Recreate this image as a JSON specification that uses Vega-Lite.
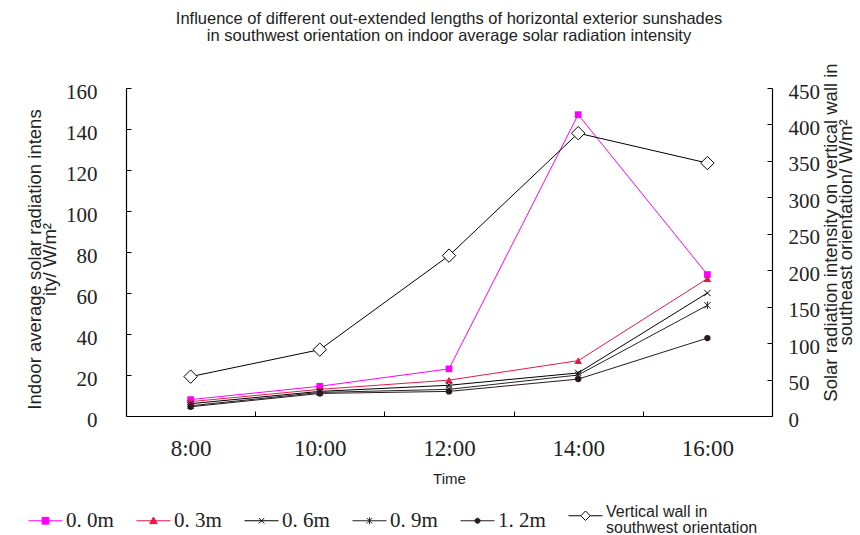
{
  "$schema": "https://vega.github.io/schema/vega-lite/v6.json",
  "width": 646,
  "height": 328,
  "autosize": {"type": "none"},
  "padding": {"left": 126, "top": 88, "right": 88, "bottom": 119},
  "background": "white",
  "config": {
    "view": {"stroke": null},
    "axis": {
      "grid": false,
      "domainColor": "#000000",
      "tickColor": "#000000",
      "labelColor": "#222222",
      "titleColor": "#222222",
      "labelFont": "Liberation Serif",
      "titleFont": "Liberation Sans",
      "titleFontWeight": "normal",
      "titleFontSize": 14
    }
  },
  "title": {
    "text": ["Influence of different out-extended lengths of horizontal exterior sunshades", "in southwest orientation on indoor average solar radiation intensity"],
    "font": "Liberation Sans",
    "fontSize": 16.5,
    "fontWeight": "normal",
    "color": "#222222",
    "anchor": "middle",
    "offset": 18,
    "lineHeight": 17
  },
  "datasets": {
    "indoor": [
      {"s": "0.0m", "t": "8:00", "v": 8},
      {"s": "0.0m", "t": "10:00", "v": 14.5},
      {"s": "0.0m", "t": "12:00", "v": 23},
      {"s": "0.0m", "t": "14:00", "v": 147},
      {"s": "0.0m", "t": "16:00", "v": 69},
      {"s": "0.3m", "t": "8:00", "v": 7},
      {"s": "0.3m", "t": "10:00", "v": 13},
      {"s": "0.3m", "t": "12:00", "v": 17.5},
      {"s": "0.3m", "t": "14:00", "v": 27},
      {"s": "0.3m", "t": "16:00", "v": 67},
      {"s": "0.6m", "t": "8:00", "v": 6},
      {"s": "0.6m", "t": "10:00", "v": 12},
      {"s": "0.6m", "t": "12:00", "v": 15},
      {"s": "0.6m", "t": "14:00", "v": 21},
      {"s": "0.6m", "t": "16:00", "v": 60},
      {"s": "0.9m", "t": "8:00", "v": 5},
      {"s": "0.9m", "t": "10:00", "v": 11.5},
      {"s": "0.9m", "t": "12:00", "v": 13},
      {"s": "0.9m", "t": "14:00", "v": 20},
      {"s": "0.9m", "t": "16:00", "v": 54},
      {"s": "1.2m", "t": "8:00", "v": 4.5},
      {"s": "1.2m", "t": "10:00", "v": 11},
      {"s": "1.2m", "t": "12:00", "v": 12},
      {"s": "1.2m", "t": "14:00", "v": 18},
      {"s": "1.2m", "t": "16:00", "v": 38}
    ],
    "wall": [
      {"s": "wall", "t": "8:00", "v": 54},
      {"s": "wall", "t": "10:00", "v": 91},
      {"s": "wall", "t": "12:00", "v": 220},
      {"s": "wall", "t": "14:00", "v": 388},
      {"s": "wall", "t": "16:00", "v": 347}
    ]
  },
  "encoding": {
    "x": {
      "field": "t",
      "type": "ordinal",
      "scale": {"type": "band", "paddingInner": 0, "paddingOuter": 0, "domain": ["8:00", "10:00", "12:00", "14:00", "16:00"]},
      "axis": {
        "title": "Time",
        "labelAngle": 0,
        "tickBand": "extent",
        "tickSize": -5,
        "labelFontSize": 23,
        "labelPadding": 26,
        "titlePadding": 11,
        "titleFontSize": 15,
        "domainWidth": 1.2
      }
    }
  },
  "layer": [
    {
      "data": {"name": "indoor"},
      "encoding": {
        "y": {
          "field": "v",
          "type": "quantitative",
          "scale": {"domain": [0, 160], "nice": false},
          "axis": {
            "orient": "left",
            "values": [0, 20, 40, 60, 80, 100, 120, 140, 160],
            "title": ["Indoor average solar radiation intens", "ity/ W/m²"],
            "titleFontSize": 18.5,
            "titleLineHeight": 15,
            "titleY": 171,
            "tickSize": -5,
            "labelFontSize": 21,
            "labelPadding": 34,
            "labelOffset": 4,
            "titlePadding": 6,
            "domainWidth": 1.2
          }
        }
      },
      "layer": [
        {
          "mark": {"type": "line", "strokeWidth": 1},
          "encoding": {
            "detail": {"field": "s"},
            "color": {
              "field": "s",
              "type": "nominal",
              "scale": {
                "domain": ["0.0m", "0.3m", "0.6m", "0.9m", "1.2m", "wall"],
                "range": ["#ff00ff", "#e8174a", "#000000", "#222222", "#2a1a20", "#000000"]
              },
              "legend": {
                "orient": "none",
                "legendX": -98,
                "legendY": 410,
                "direction": "horizontal",
                "columns": 6,
                "title": null,
                "padding": 0,
                "symbolSize": 1156,
                "symbolStrokeWidth": 1,
                "columnPadding": 20,
                "labelOffset": 3,
                "labelLimit": 320,
                "labelFont": "Liberation Serif",
                "labelFontSize": 21,
                "labelColor": "#222222",
                "labelExpr": "datum.value == 'wall' ? ['Vertical wall in', 'southwest orientation'] : replace(datum.value, '.', '. ')",
                "encode": {
                  "symbols": {
                    "update": {
                      "shape": {"signal": "datum.value == '0.0m' ? 'M-1,0L1,0M-0.2,-0.2L0.2,-0.2L0.2,0.2L-0.2,0.2Z' : datum.value == '0.3m' ? 'M-1,0L1,0M0,-0.22L0.22,0.17L-0.22,0.17Z' : datum.value == '0.6m' ? 'M-1,0L1,0M-0.16,-0.16L0.16,0.16M-0.16,0.16L0.16,-0.16' : datum.value == '0.9m' ? 'M-1,0L1,0M-0.16,-0.16L0.16,0.16M-0.16,0.16L0.16,-0.16M0,-0.2L0,0.2' : datum.value == '1.2m' ? 'M-1,0L1,0M0.15,0A0.15,0.15 0 1,1 -0.15,0A0.15,0.15 0 1,1 0.15,0Z' : 'M-1,0L-0.28,0M0.28,0L1,0M0,-0.28L0.28,0L0,0.28L-0.28,0Z'"},
                      "fill": {"signal": "datum.value == 'wall' ? '#ffffff' : (datum.value == '0.6m' || datum.value == '0.9m') ? 'transparent' : scale('color', datum.value)"},
                      "stroke": {"signal": "scale('color', datum.value)"},
                      "strokeWidth": {"value": 1},
                      "size": {"value": 1156}
                    }
                  },
                  "labels": {
                    "update": {
                      "font": {"signal": "datum.value == 'wall' ? 'Liberation Sans' : 'Liberation Serif'"},
                      "fontSize": {"signal": "datum.value == 'wall' ? 16 : 21"},
                      "lineHeight": {"value": 16},
                      "dy": {"signal": "datum.value == 'wall' ? -4 : 0"}
                    }
                  }
                }
              }
            }
          }
        },
        {
          "transform": [{"filter": "datum.s == '0.0m'"}],
          "mark": {"type": "point", "shape": "square", "filled": true, "color": "#ff00ff", "size": 45, "opacity": 1}
        },
        {
          "transform": [{"filter": "datum.s == '0.3m'"}],
          "mark": {"type": "point", "shape": "triangle-up", "filled": true, "color": "#e8174a", "size": 60, "opacity": 1}
        },
        {
          "transform": [{"filter": "datum.s == '0.6m'"}],
          "mark": {"type": "point", "shape": "M-1,-1L1,1M-1,1L1,-1", "filled": false, "stroke": "#000000", "strokeWidth": 1, "size": 40, "opacity": 1}
        },
        {
          "transform": [{"filter": "datum.s == '0.9m'"}],
          "mark": {"type": "point", "shape": "M-1,-1L1,1M-1,1L1,-1M0,-1.2L0,1.2", "filled": false, "stroke": "#222222", "strokeWidth": 1, "size": 40, "opacity": 1}
        },
        {
          "transform": [{"filter": "datum.s == '1.2m'"}],
          "mark": {"type": "point", "shape": "circle", "filled": true, "color": "#2a1a20", "size": 40, "opacity": 1}
        }
      ]
    },
    {
      "data": {"name": "wall"},
      "encoding": {
        "y": {
          "field": "v",
          "type": "quantitative",
          "scale": {"domain": [0, 450], "nice": false},
          "axis": {
            "orient": "right",
            "values": [0, 50, 100, 150, 200, 250, 300, 350, 400, 450],
            "title": ["Solar radiation intensity on vertical wall in", "southeast orientation/ W/m²"],
            "titleAngle": -90,
            "titleFontSize": 18.5,
            "titleLineHeight": 15,
            "titleY": 144,
            "tickSize": -5,
            "labelFontSize": 21,
            "labelPadding": 21,
            "labelOffset": 4,
            "titlePadding": 6,
            "domainWidth": 1.2
          }
        }
      },
      "layer": [
        {
          "mark": {"type": "line", "strokeWidth": 1},
          "encoding": {
            "color": {"field": "s", "type": "nominal"}
          }
        },
        {
          "mark": {"type": "point", "shape": "diamond", "filled": true, "fill": "#ffffff", "stroke": "#000000", "strokeWidth": 1, "size": 180, "opacity": 1}
        }
      ]
    }
  ],
  "resolve": {"scale": {"y": "independent"}}
}
